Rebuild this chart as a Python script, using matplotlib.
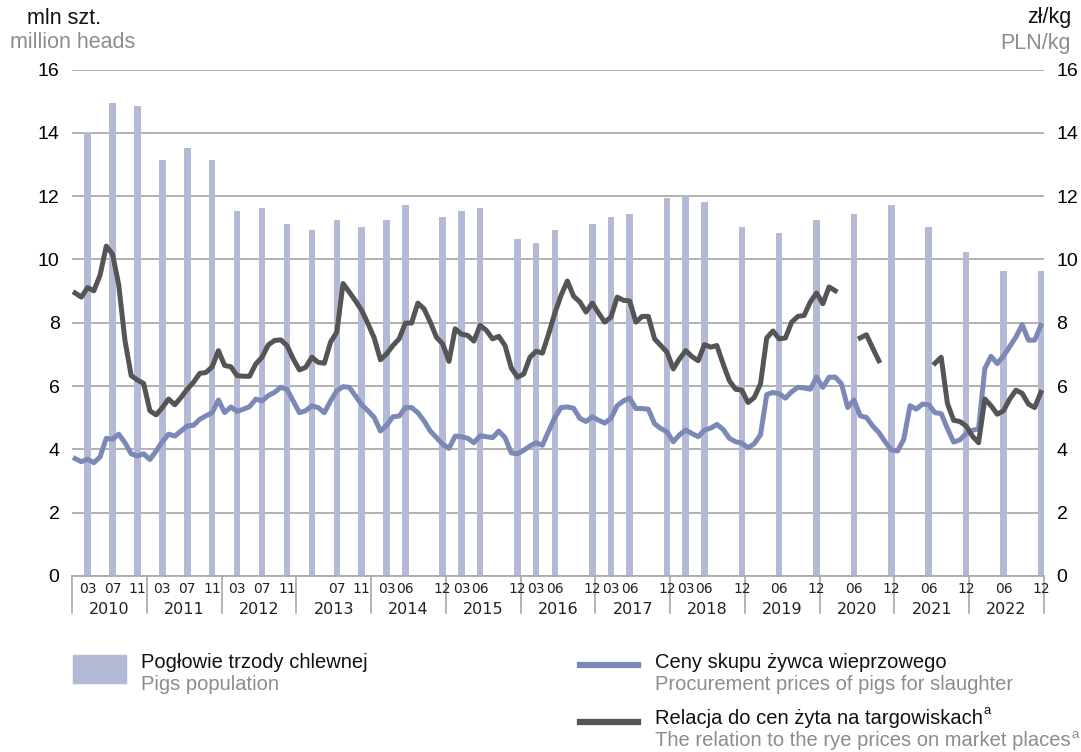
import numpy as np
import matplotlib
matplotlib.use("Agg")
import matplotlib.pyplot as plt
from matplotlib import font_manager as fm
from matplotlib.lines import Line2D
from matplotlib.patches import Rectangle

# ---- data -------------------------------------------------------------
years = list(range(2010, 2023))

# pig population surveys (million heads)
survey_dates = ["2010-03", "2010-07", "2010-11", "2011-03", "2011-07", "2011-11",
                "2012-03", "2012-07", "2012-11", "2013-03", "2013-07", "2013-11",
                "2014-03", "2014-06", "2014-12", "2015-03", "2015-06", "2015-12",
                "2016-03", "2016-06", "2016-12", "2017-03", "2017-06", "2017-12",
                "2018-03", "2018-06", "2018-12", "2019-06", "2019-12", "2020-06",
                "2020-12", "2021-06", "2021-12", "2022-06", "2022-12"]
population = [14.03, 14.95, 14.85, 13.14, 13.51, 13.14, 11.53, 11.63, 11.12, 10.93,
              11.25, 11.03, 11.25, 11.72, 11.34, 11.53, 11.63, 10.65, 10.52, 10.93,
              11.12, 11.34, 11.44, 11.94, 12.04, 11.82, 11.03, 10.84, 11.25, 11.44,
              11.72, 11.03, 10.24, 9.64, 9.64]
# survey months whose label is not printed on the axis
unlabelled = ["2013-03"]

# monthly procurement prices of pigs (PLN/kg), Jan 2010 - Dec 2022
price = [3.71, 3.61, 3.69, 3.58, 3.76, 4.35, 4.32, 4.48, 4.21, 3.86, 3.79, 3.86,
         3.68, 3.95, 4.24, 4.48, 4.42, 4.58, 4.74, 4.76, 4.95, 5.06, 5.16, 5.56,
         5.16, 5.34, 5.20, 5.27, 5.35, 5.59, 5.53, 5.70, 5.80, 5.96, 5.90, 5.53,
         5.16, 5.22, 5.38, 5.32, 5.16, 5.53, 5.85, 5.98, 5.96, 5.69, 5.41, 5.22,
         5.01, 4.58, 4.76, 5.03, 5.05, 5.32, 5.32, 5.16, 4.90, 4.58, 4.37, 4.16,
         4.03, 4.42, 4.40, 4.35, 4.21, 4.43, 4.40, 4.37, 4.58, 4.37, 3.89, 3.86,
         3.97, 4.11, 4.21, 4.13, 4.58, 5.01, 5.32, 5.34, 5.30, 4.98, 4.88, 5.03,
         4.92, 4.83, 4.98, 5.38, 5.53, 5.62, 5.29, 5.29, 5.27, 4.81, 4.66, 4.55,
         4.24, 4.46, 4.61, 4.50, 4.40, 4.61, 4.67, 4.79, 4.63, 4.35, 4.24, 4.20,
         4.05, 4.18, 4.46, 5.73, 5.80, 5.75, 5.62, 5.82, 5.96, 5.94, 5.90, 6.28,
         5.96, 6.28, 6.28, 6.07, 5.32, 5.56, 5.06, 5.01, 4.74, 4.53, 4.24, 3.98,
         3.95, 4.32, 5.38, 5.27, 5.43, 5.41, 5.16, 5.13, 4.66, 4.23, 4.30, 4.50,
         4.60, 4.65, 6.55, 6.94, 6.71, 6.95, 7.25, 7.55, 7.94, 7.45, 7.45, 7.92]

# relation to rye prices on market places (None = no data)
relation = [8.94, 8.81, 9.11, 9.01, 9.50, 10.42, 10.17, 9.20, 7.44, 6.33, 6.19, 6.08,
            5.22, 5.09, 5.32, 5.59, 5.41, 5.64, 5.90, 6.12, 6.40, 6.43, 6.61, 7.12,
            6.65, 6.61, 6.33, 6.31, 6.31, 6.70, 6.91, 7.30, 7.44, 7.46, 7.28, 6.86,
            6.51, 6.59, 6.91, 6.75, 6.72, 7.39, 7.70, 9.24, 8.97, 8.69, 8.39, 7.97,
            7.52, 6.83, 7.02, 7.28, 7.49, 7.99, 7.99, 8.62, 8.44, 8.02, 7.54, 7.33,
            6.78, 7.81, 7.64, 7.60, 7.42, 7.92, 7.76, 7.49, 7.57, 7.28, 6.57, 6.28,
            6.38, 6.91, 7.10, 7.04, 7.65, 8.31, 8.87, 9.32, 8.84, 8.66, 8.34, 8.62,
            8.31, 8.02, 8.18, 8.81, 8.71, 8.69, 8.02, 8.20, 8.20, 7.49, 7.28, 7.07,
            6.54, 6.86, 7.12, 6.93, 6.80, 7.31, 7.23, 7.28, 6.70, 6.17, 5.90, 5.87,
            5.48, 5.64, 6.07, 7.52, 7.74, 7.49, 7.52, 8.02, 8.20, 8.23, 8.66, 8.94,
            8.60, 9.13, 9.01, None, None, None, 7.52, 7.62, 7.20, 6.80, None, None,
            None, None, None, None, None, None, 6.72, 6.91, 5.45, 4.92, 4.88, 4.74,
            4.42, 4.21, 5.59, 5.38, 5.11, 5.22, 5.59, 5.87, 5.77, 5.43, 5.32, 5.80]

yticks = list(range(0, 17, 2))

# ---- style ------------------------------------------------------------
BAR = "#b4bad5"
PRICE = "#7c88b5"
REL = "#555555"
GREY_TXT = "#8c8c8c"
GRID = "#ababab"

names = {f.name for f in fm.fontManager.ttflist}
NARROW = "Liberation Sans Narrow" if "Liberation Sans Narrow" in names else "DejaVu Sans"
MAIN = "Liberation Sans"
plt.rcParams["font.family"] = [MAIN, "DejaVu Sans"]


def month_index(d):
    y, m = d.split("-")
    return (int(y) - years[0]) * 12 + int(m) - 1


W, H = 1081, 752
fig = plt.figure(figsize=(W / 100, H / 100), dpi=100)
ax = fig.add_axes([72 / W, 1 - 576 / H, (1044 - 72) / W, (576 - 69.5) / H])

n = len(price)
months = np.arange(n)
bar_x = [month_index(d) for d in survey_dates]

ax.bar(bar_x, population, width=1.05, color=BAR, zorder=2)
ax.plot(months, price, color=PRICE, lw=3.6, solid_joinstyle="round", zorder=3)
rel = np.array([np.nan if v is None else v for v in relation], dtype=float)
ax.plot(months, rel, color=REL, lw=3.6, solid_joinstyle="round", zorder=4)

ax.set_xlim(-0.5, n - 0.5)
ax.set_ylim(0, 16)
ax.set_yticks(yticks)
ax.yaxis.grid(True, color=GRID, lw=1.3, zorder=1)
ax.set_axisbelow(True)
ax.tick_params(axis="y", length=0, labelsize=14, pad=9,
               labelright=True, labelleft=True)
for s in ["top", "left", "right"]:
    ax.spines[s].set_visible(False)
ax.spines["bottom"].set_color(GRID)
ax.spines["bottom"].set_linewidth(1.3)
ax.set_xticks([])

# month / year labels under the axis
ah = (576 - 69.5)
tr = ax.get_xaxis_transform()
for d, x in zip(survey_dates, bar_x):
    if d in unlabelled:
        continue
    ax.text(x, -13 / ah, d.split("-")[1], transform=tr, ha="center", va="center",
            fontsize=10, family=NARROW, color="#222222")
for k, yr in enumerate(years):
    ax.text(12 * k + 5.5, -34 / ah, str(yr), transform=tr, ha="center", va="center",
            fontsize=11.5, family=NARROW, color="#222222")
for k in range(len(years) + 1):
    ax.add_line(Line2D([12 * k - 0.5] * 2, [0, -37 / ah], transform=tr,
                       color="#a8a8a8", lw=1.2, clip_on=False))


def ftext(x, y, s, **kw):
    return fig.text(x / W, 1 - y / H, s, va="center", **kw)


# axis unit captions
ftext(27, 18, "mln szt.", fontsize=15.5, color="#111111")
ftext(10, 42, "million heads", fontsize=15.5, color=GREY_TXT)
ftext(1071, 18, "zł/kg", fontsize=15.5, color="#111111", ha="right")
ftext(1071, 43, "PLN/kg", fontsize=15.5, color=GREY_TXT, ha="right")

# legend
fig.add_artist(Rectangle((73 / W, 1 - 683 / H), 53 / W, 28 / H,
                         transform=fig.transFigure, color=BAR))
ftext(141, 662, "Pogłowie trzody chlewnej", fontsize=14.5, color="#111111")
ftext(141, 685, "Pigs population", fontsize=14.5, color=GREY_TXT)

fig.add_artist(Line2D([580 / W, 638 / W], [1 - 665 / H] * 2,
                      transform=fig.transFigure, color=PRICE, lw=4.5))
ftext(655, 662, "Ceny skupu żywca wieprzowego", fontsize=14.5, color="#111111")
ftext(655, 685, "Procurement prices of pigs for slaughter", fontsize=14.5, color=GREY_TXT)

fig.add_artist(Line2D([580 / W, 638 / W], [1 - 722 / H] * 2,
                      transform=fig.transFigure, color=REL, lw=4.5))
t1 = ftext(655, 718, "Relacja do cen żyta na targowiskach", fontsize=14.5, color="#111111")
t2 = ftext(655, 741, "The relation to the rye prices on market places", fontsize=14.5,
           color=GREY_TXT)

# superscript "a" after the last two legend labels
fig.canvas.draw()
r = fig.canvas.get_renderer()
for t, c in [(t1, "#111111"), (t2, GREY_TXT)]:
    bb = t.get_window_extent(r)
    fig.text((bb.x1 + 1) / W, (bb.y0 + 13) / H, "a", fontsize=9.5, color=c,
             va="baseline", ha="left")

fig.savefig("out.png", dpi=100)
